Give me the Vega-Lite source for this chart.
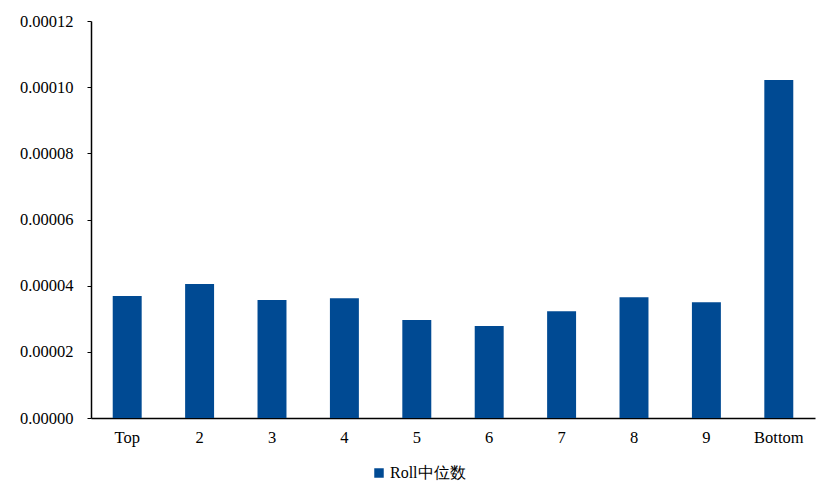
{
  "$schema": "https://vega.github.io/schema/vega-lite/v6.json",
  "width": 724,
  "height": 397,
  "autosize": "none",
  "padding": {"left": 91, "top": 21, "right": 10, "bottom": 71},
  "background": "white",
  "data": {
    "values": [
      {"group": "Top", "value": 0.0000369, "series": "Roll中位数"},
      {"group": "2", "value": 0.0000405, "series": "Roll中位数"},
      {"group": "3", "value": 0.0000357, "series": "Roll中位数"},
      {"group": "4", "value": 0.0000362, "series": "Roll中位数"},
      {"group": "5", "value": 0.0000296, "series": "Roll中位数"},
      {"group": "6", "value": 0.0000278, "series": "Roll中位数"},
      {"group": "7", "value": 0.0000323, "series": "Roll中位数"},
      {"group": "8", "value": 0.0000365, "series": "Roll中位数"},
      {"group": "9", "value": 0.0000350, "series": "Roll中位数"},
      {"group": "Bottom", "value": 0.0001022, "series": "Roll中位数"}
    ]
  },
  "mark": {"type": "bar"},
  "encoding": {
    "x": {
      "field": "group",
      "type": "nominal",
      "sort": null,
      "scale": {"paddingInner": 0.6, "paddingOuter": 0.3},
      "axis": {
        "title": null,
        "labelAngle": 0,
        "ticks": false,
        "labelPadding": 11,
        "domainColor": "#000000",
        "domainWidth": 1.5
      }
    },
    "y": {
      "field": "value",
      "type": "quantitative",
      "scale": {"domain": [0, 0.00012], "nice": false},
      "axis": {
        "title": null,
        "values": [0, 0.00002, 0.00004, 0.00006, 0.00008, 0.0001, 0.00012],
        "format": ".5f",
        "grid": false,
        "tickSize": 4,
        "tickColor": "#000000",
        "labelPadding": 14,
        "domainColor": "#000000",
        "domainWidth": 1.5
      }
    },
    "color": {
      "field": "series",
      "type": "nominal",
      "scale": {"range": ["#004A93"]},
      "legend": {
        "title": null,
        "orient": "none",
        "legendX": 280,
        "legendY": 444,
        "symbolType": "square",
        "symbolSize": 90,
        "labelFontSize": 16,
        "labelFont": "Times New Roman, Liberation Serif, DejaVu Serif, serif",
        "labelColor": "#000000",
        "labelOffset": 3
      }
    }
  },
  "config": {
    "view": {"stroke": null},
    "axis": {
      "labelFont": "Times New Roman, Liberation Serif, DejaVu Serif, serif",
      "labelFontSize": 16.5,
      "labelColor": "#000000"
    }
  }
}
